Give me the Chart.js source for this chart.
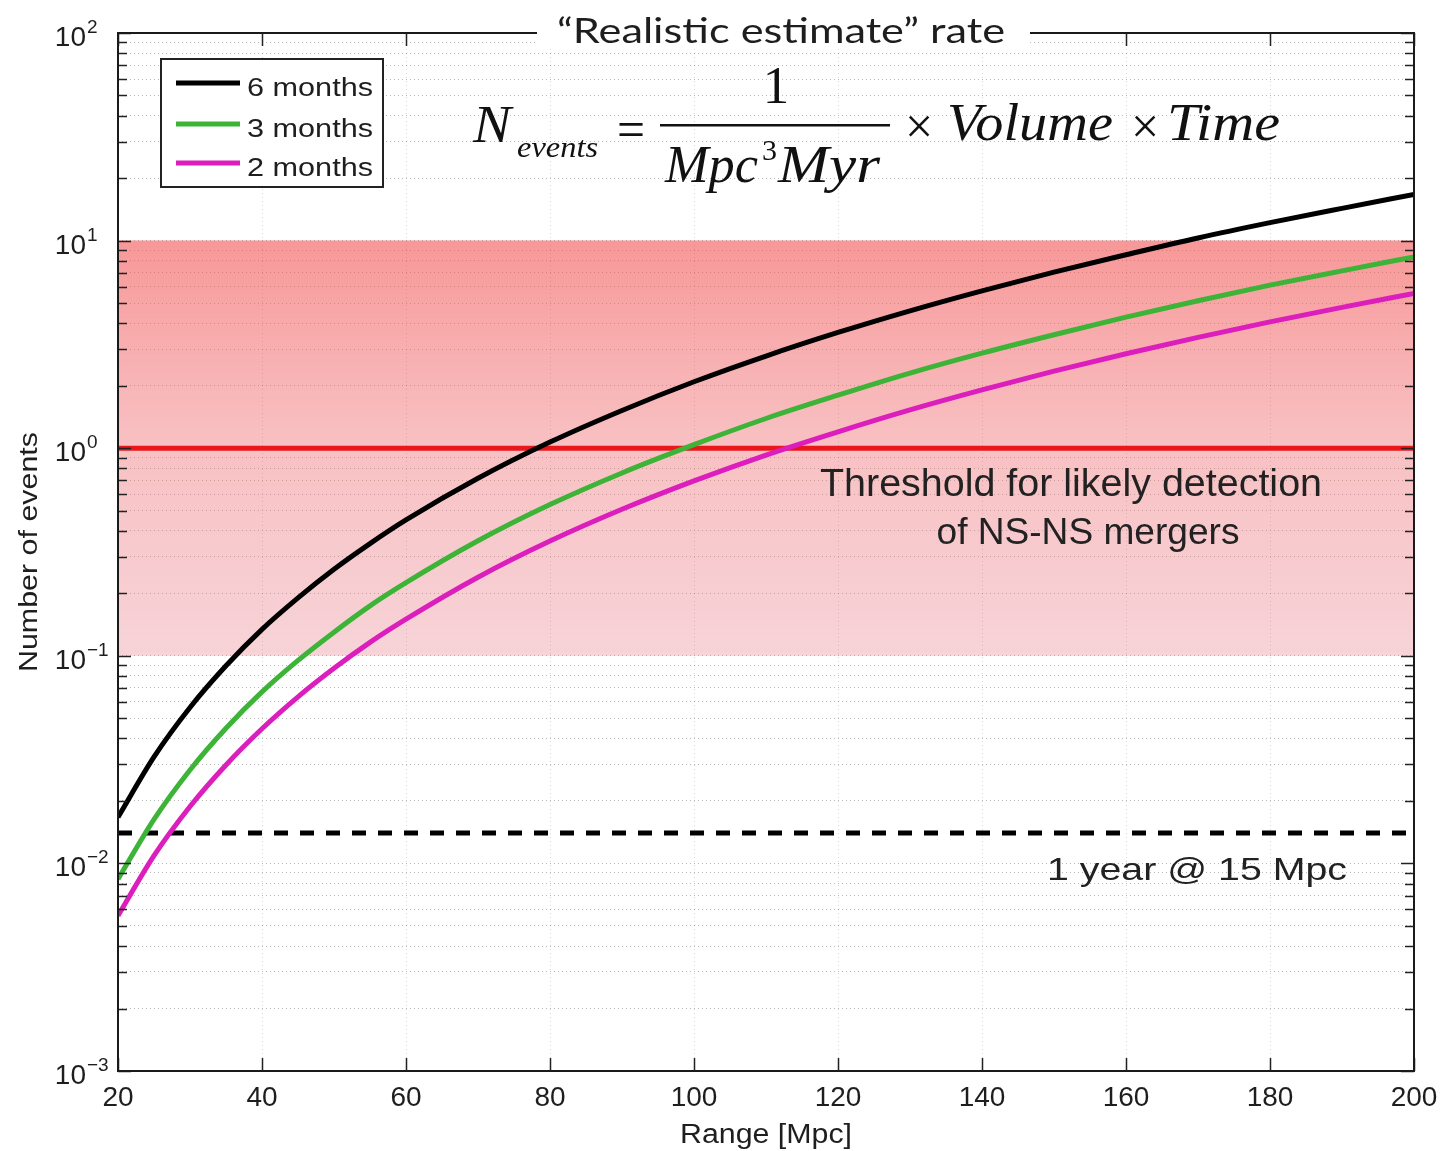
<!DOCTYPE html>
<html><head><meta charset="utf-8">
<script src="https://cdn.jsdelivr.net/npm/chart.js@4.4.1/dist/chart.umd.min.js"></script>
<style>html,body{margin:0;padding:0;background:#fff;}canvas{display:block;}</style>
</head><body>
<canvas id="c" width="1443" height="1151"></canvas>
<script>
// ---- data ----
const rangeMpc    = [20,25,30,35,40,45,50,55,60,70,80,90,100,110,120,130,140,150,160,170,180,190,200];
const sixMonths   = [0.0167,0.0326,0.0564,0.0895,0.134,0.19,0.261,0.347,0.451,0.716,1.07,1.52,2.09,2.78,3.61,4.59,5.73,7.05,8.55,10.3,12.2,14.3,16.7];
const threeMonths = [0.0084,0.0163,0.0282,0.0448,0.067,0.095,0.13,0.174,0.225,0.358,0.535,0.76,1.04,1.39,1.8,2.3,2.87,3.52,4.28,5.13,6.1,7.15,8.35];
const twoMonths   = [0.0056,0.0109,0.0188,0.0298,0.0445,0.0634,0.087,0.116,0.15,0.239,0.357,0.508,0.696,0.927,1.2,1.53,1.91,2.35,2.85,3.42,4.06,4.77,5.57];
const seriesLabels = ['6 months','3 months','2 months'];
const bandRange   = [0.1, 10];      // likely-rate band
const thresholdLevel = 1;           // threshold for likely detection
const oneYearAt15 = 0.014;          // 1 year @ 15 Mpc
const xRange = [20, 200];
const yRange = [0.001, 100];
const xTickLabels = [20,40,60,80,100,120,140,160,180,200];
const yTickExponents = [2,1,0,-1,-2,-3];
const titleText = '\u201CRealistic estimate\u201D rate';
const xTitle = 'Range [Mpc]';
const yTitle = 'Number of events';

const pts = (ys) => rangeMpc.map((x,i)=>({x, y: ys[i]}));
const flat = (v) => [{x:xRange[0], y:v},{x:xRange[1], y:v}];

const SANS = '"Liberation Sans", Arial, Helvetica, sans-serif';
const SERIF = '"Liberation Serif", "Times New Roman", serif';
const TXT = '#1e1e1e';

function fitText(c, txt, x, y, font, width, align) {
  c.save();
  c.font = font;
  c.textBaseline = 'alphabetic';
  c.textAlign = 'left';
  const w = c.measureText(txt).width;
  const s = width ? width / w : 1;
  c.translate(x, y);
  c.scale(s, 1);
  const dx = align === 'center' ? -w/2 : (align === 'right' ? -w : 0);
  c.fillText(txt, dx, 0);
  c.restore();
}

const decor = {
  id: 'decor',
  afterDraw(chart) {
    const c = chart.ctx;
    const a = chart.chartArea;
    const xs = chart.scales.x, ys = chart.scales.y;
    c.save();
    c.fillStyle = TXT;
    c.strokeStyle = '#222';

    // inward ticks
    c.lineWidth = 1.5;
    ys.ticks.forEach(t => {
      const y = Math.round(ys.getPixelForValue(t.value)) + 0.5;
      const lg = Math.log10(t.value);
      const major = Math.abs(lg - Math.round(lg)) < 1e-6;
      const L = major ? 13 : 9;
      c.beginPath();
      c.moveTo(a.left, y); c.lineTo(a.left + L, y);
      c.moveTo(a.right, y); c.lineTo(a.right - L, y);
      c.stroke();
    });
    xs.ticks.forEach(t => {
      const x = Math.round(xs.getPixelForValue(t.value)) + 0.5;
      c.beginPath();
      c.moveTo(x, a.bottom); c.lineTo(x, a.bottom - 13);
      c.moveTo(x, a.top); c.lineTo(x, a.top + 13);
      c.stroke();
    });

    // axes box
    c.lineWidth = 2;
    c.strokeStyle = '#1a1a1a';
    c.strokeRect(a.left, a.top, a.right - a.left, a.bottom - a.top);

    // y tick labels 10^k
    c.fillStyle = TXT;
    yTickExponents.forEach(k => {
      const y = ys.getPixelForValue(Math.pow(10, k));
      c.font = '28px ' + SANS;
      c.textAlign = 'right';
      c.textBaseline = 'alphabetic';
      c.fillText('10', 86, y + 13);
      c.font = '19px ' + SANS;
      c.textAlign = 'left';
      c.fillText(k < 0 ? '\u2212' + Math.abs(k) : String(k), 87, y);
    });

    // axis titles
    fitText(c, xTitle, 766, 1143, '27px ' + SANS, 172, 'center');
    c.save();
    c.translate(37, 552);
    c.rotate(-Math.PI/2);
    fitText(c, yTitle, 0, 0, '25px ' + SANS, 240, 'center');
    c.restore();

    // title over the top border
    c.fillStyle = '#fff';
    c.fillRect(537, 18, 493, 28);
    c.fillStyle = TXT;
    fitText(c, titleText, 781, 43, '35px Lato, "Open Sans", sans-serif', 448, 'center');

    // legend
    const lx = 161, ly = 59, lw = 222, lh = 128;
    c.fillStyle = '#fff';
    c.fillRect(lx, ly, lw, lh);
    c.lineWidth = 2;
    c.strokeStyle = '#222';
    c.strokeRect(lx, ly, lw, lh);
    const rows = [83, 124, 163];
    chart.data.datasets.filter(d => seriesLabels.includes(d.label)).forEach((d, i) => {
      c.strokeStyle = d.borderColor;
      c.lineWidth = 5;
      c.beginPath();
      c.moveTo(176, rows[i]); c.lineTo(240, rows[i]);
      c.stroke();
      c.fillStyle = TXT;
      fitText(c, d.label, 247, rows[i] + 13, '26px ' + SANS, 126, 'left');
    });

    // formula
    c.fillStyle = '#111';
    const it = (s) => 'italic ' + s + 'px ' + SERIF;
    const up = (s) => s + 'px ' + SERIF;
    fitText(c, 'N', 473, 142, it(53), 38, 'left');
    fitText(c, 'events', 517, 157, it(30), 81, 'left');
    fitText(c, '=', 631, 147, up(53), 28, 'center');
    c.fillRect(660, 124, 230, 2.5);
    fitText(c, '1', 776, 103, up(53), null, 'center');
    fitText(c, 'Mpc', 665, 182, it(53), 93, 'left');
    fitText(c, '3', 762, 160, up(30), null, 'left');
    fitText(c, 'Myr', 778, 182, it(53), 102, 'left');
    fitText(c, '\u00D7', 919, 143, up(50), null, 'center');
    fitText(c, 'Volume', 947, 140, it(53), 166, 'left');
    fitText(c, '\u00D7', 1145, 143, up(50), null, 'center');
    fitText(c, 'Time', 1167, 140, it(53), 113, 'left');

    // annotations
    c.fillStyle = '#222';
    fitText(c, 'Threshold for likely detection', 1071, 496, '38px ' + SANS, 502, 'center');
    fitText(c, 'of NS-NS mergers', 1088, 544, '36px ' + SANS, 303, 'center');
    fitText(c, '1 year @ 15 Mpc', 1197, 880, '32px ' + SANS, 300, 'center');
    c.restore();
  }
};

function bandGradient(context) {
  const chart = context.chart;
  const a = chart.chartArea;
  if (!a) return 'rgba(240,80,80,0.4)';
  const ys = chart.scales.y;
  const top = ys.getPixelForValue(bandRange[1]);
  const bot = ys.getPixelForValue(bandRange[0]);
  const g = chart.ctx.createLinearGradient(0, top, 0, bot);
  g.addColorStop(0, 'rgba(242,70,70,0.56)');
  g.addColorStop(0.5, 'rgba(238,100,105,0.40)');
  g.addColorStop(1, 'rgba(228,110,125,0.30)');
  return g;
}

const curve = (label, ys, color, order) => ({
  label, data: pts(ys), borderColor: color, borderWidth: 5, pointRadius: 0,
  cubicInterpolationMode: 'monotone', fill: false, order
});

new Chart(document.getElementById('c'), {
  type: 'line',
  data: {
    datasets: [
      curve(seriesLabels[0], sixMonths, '#000000', 1),
      curve(seriesLabels[1], threeMonths, '#3db438', 2),
      curve(seriesLabels[2], twoMonths, '#dc1ebd', 3),
      { label: 'threshold', data: flat(thresholdLevel), borderColor: '#e8171b', borderWidth: 5, pointRadius: 0, fill: false, order: 4 },
      { label: 'oneYear', data: flat(oneYearAt15), borderColor: '#000000', borderWidth: 5, borderDash: [14, 12], pointRadius: 0, fill: false, order: 5 },
      { label: 'band', data: flat(bandRange[1]), borderWidth: 0, borderColor: 'rgba(0,0,0,0)', backgroundColor: bandGradient, pointRadius: 0, fill: { value: bandRange[0] }, order: 10 }
    ]
  },
  options: {
    responsive: false,
    animation: false,
    events: [],
    layout: { padding: { left: 0, top: 33, right: 29, bottom: 0 } },
    plugins: { legend: { display: false }, tooltip: { enabled: false }, title: { display: false } },
    scales: {
      x: {
        type: 'linear', min: xRange[0], max: xRange[1],
        afterBuildTicks: (s) => { s.ticks = xTickLabels.map(v => ({ value: v })); },
        afterFit: (s) => { s.height = 80; s.paddingLeft = 0; s.paddingRight = 0; },
        ticks: { color: TXT, font: { family: SANS, size: 28 }, padding: 10, maxRotation: 0, autoSkip: false },
        grid: { color: 'rgba(0,0,0,0.16)', lineWidth: 1, drawTicks: false },
        border: { display: false, dash: [1, 3] }
      },
      y: {
        type: 'logarithmic', min: yRange[0], max: yRange[1],
        afterBuildTicks: (s) => {
          s.ticks = s.ticks.filter(t => {
            const m = t.value / Math.pow(10, Math.floor(Math.log10(t.value) + 1e-9));
            return Math.abs(m - Math.round(m)) < 1e-6;
          });
        },
        afterFit: (s) => { s.width = 118; s.paddingTop = 0; s.paddingBottom = 0; },
        ticks: { display: false },
        grid: { color: 'rgba(0,0,0,0.28)', lineWidth: 1, drawTicks: false },
        border: { display: false, dash: [1, 3] }
      }
    }
  },
  plugins: [decor]
});
</script>
</body></html>
